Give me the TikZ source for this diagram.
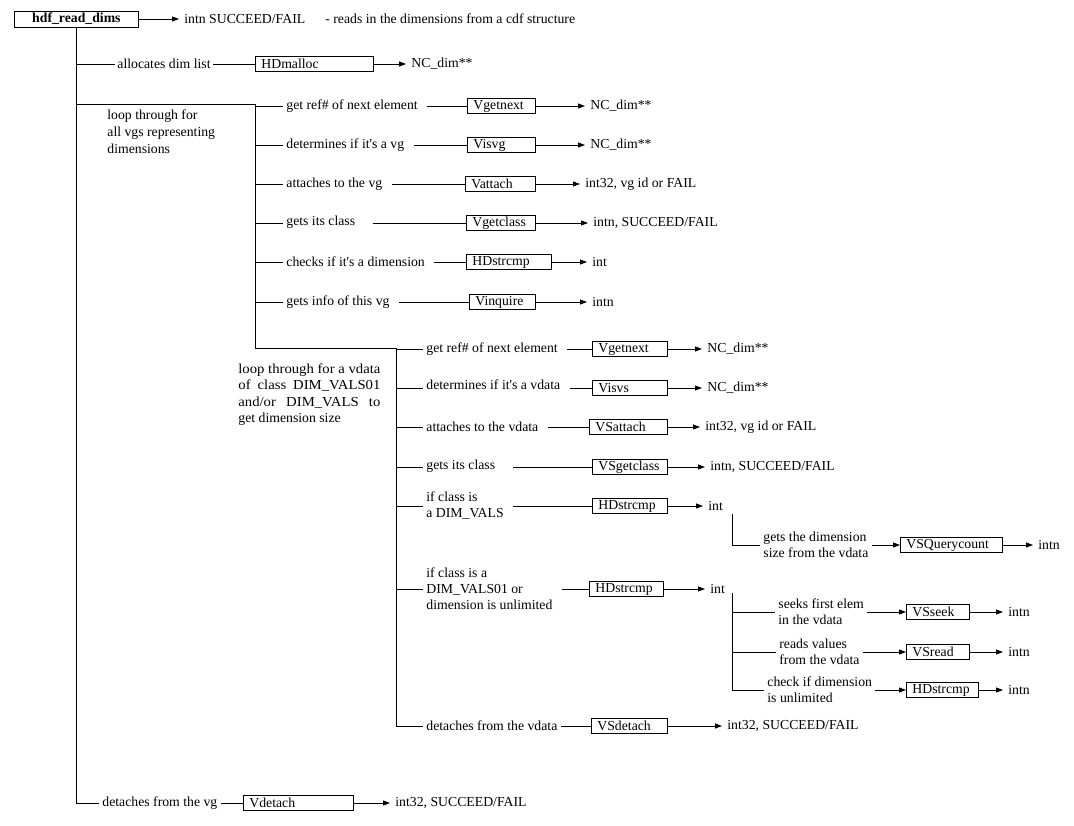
\documentclass[tikz,border=0pt]{standalone}
\usepackage{fontspec}
\setmainfont{Liberation Serif}
\newfontfamily\widefont[FakeStretch=1.07]{Liberation Serif}
\newcommand{\apos}{\textquotesingle}
\usetikzlibrary{arrows.meta}
\begin{document}
\begin{tikzpicture}[x=1pt,y=-1pt,line width=0.8pt,
  every node/.style={font=\fontsize{13.75}{16}\selectfont},
  lab/.style={anchor=west,inner xsep=3pt,inner ysep=1pt,align=left},
  ret/.style={anchor=west,inner xsep=5pt,inner ysep=1pt},
  fbox/.style={draw,anchor=west,minimum height=15pt,inner ysep=0pt,inner xsep=6pt,text width=#1,align=left},
  arr/.style={-{Triangle[length=7pt,width=5pt]}},
  gap/.style={shorten <=6pt}]
\useasboundingbox (0,0) rectangle (1074,825);

% ---- top-level routine ----
\node[draw,anchor=west,minimum width=124pt,minimum height=16pt,inner sep=0pt,
      font=\fontsize{13.75}{16}\selectfont\bfseries] (hdf) at (14,19) {hdf\_read\_dims};
\node[ret] (hdfret) at (179,19) {intn SUCCEED/FAIL};
\node[lab] (hdfnote) at (322,19) {- reads in the dimensions from a cdf structure};
\draw[arr] (hdf.east) -- (hdfret.west);

% ---- allocation ----
\node[lab,inner xsep=2pt] (alloc) at (115,64) {allocates dim list};
\node[fbox=106pt] (allocf) at (255,64) {HDmalloc};
\node[ret] (allocr) at (406,64) {NC\_dim**};
\draw (hdf.south |- alloc.west) -- (alloc.west);
\draw (alloc.east) -- (allocf.west);
\draw[arr] (allocf.east) -- (allocr.west);

% ---- detach at the end ----
\node[lab] (detvg) at (99,803) {detaches from the vg};
\node[fbox=98pt] (detvgf) at (243,803) {Vdetach};
\node[ret] (detvgr) at (390,803) {int32, SUCCEED/FAIL};
\draw (hdf.south) |- (detvg.west);
\draw (detvg.east) -- (detvgf.west);
\draw[arr] (detvgf.east) -- (detvgr.west);

% ---- loop brackets ----
\coordinate (c2) at (255,104);
\coordinate (c3) at (255,348);
\coordinate (c4) at (396,348);
\coordinate (c5) at (396,726);
\draw (hdf.south |- c2) -- (c2) -- (c3) -- (c4) -- (c5);

\node[anchor=north west,align=left,inner sep=0pt,font=\fontsize{13.75}{17}\selectfont] (loopvg) at (107,109)
  {loop through for\\all vgs representing\\dimensions};

% ---- loop over vgroups ----
\node[lab] (a1) at (283,106) {get ref\# of next element};
\node[fbox=56pt] (a1f) at (467,106) {Vgetnext};
\node[ret] (a1r) at (585,106) {NC\_dim**};
\draw (c2 |- a1.west) -- (a1.west);
\draw[gap] (a1.east) -- (a1f.west);
\draw[arr] (a1f.east) -- (a1r.west);

\node[lab] (a2) at (283,145) {determines if it\apos s a vg};
\node[fbox=56pt] (a2f) at (467,145) {Visvg};
\node[ret] (a2r) at (585,145) {NC\_dim**};
\draw (c2 |- a2.west) -- (a2.west);
\draw[gap] (a2.east) -- (a2f.west);
\draw[arr] (a2f.east) -- (a2r.west);

\node[lab] (a3) at (283,184) {attaches to the vg};
\node[fbox=58pt] (a3f) at (465,184) {Vattach};
\node[ret] (a3r) at (580,184) {int32, vg id or FAIL};
\draw (c2 |- a3.west) -- (a3.west);
\draw[gap] (a3.east) -- (a3f.west);
\draw[arr] (a3f.east) -- (a3r.west);

\node[lab] (a4) at (283,222) {gets its class};
\node[fbox=57pt] (a4f) at (466,223) {Vgetclass};
\node[ret] (a4r) at (588,223) {intn, SUCCEED/FAIL};
\draw (c2 |- a4f.west) -- (a4.west |- a4f.west);
\draw[shorten <=14pt] (a4.east |- a4f.west) -- (a4f.west);
\draw[arr] (a4f.east) -- (a4r.west);

\node[lab] (a5) at (283,262) {checks if it\apos s a dimension};
\node[fbox=73pt] (a5f) at (466,262) {HDstrcmp};
\node[ret] (a5r) at (587,262) {int};
\draw (c2 |- a5.west) -- (a5.west);
\draw[gap] (a5.east) -- (a5f.west);
\draw[arr] (a5f.east) -- (a5r.west);

\node[lab] (a6) at (283,302) {gets info of this vg};
\node[fbox=54pt] (a6f) at (469,302) {Vinquire};
\node[ret] (a6r) at (587,302) {intn};
\draw (c2 |- a6.west) -- (a6.west);
\draw[gap] (a6.east) -- (a6f.west);
\draw[arr] (a6f.east) -- (a6r.west);

% ---- loop over vdatas ----
\node[anchor=north west,align=left,inner sep=0pt,font=\fontsize{13.75}{16.5}\selectfont] (loopvd) at (238,363)
  {\makebox[142pt][s]{\widefont loop through for a vdata}\\
   \makebox[142pt][s]{\widefont of class DIM\_VALS01}\\
   \makebox[142pt][s]{\widefont and/or DIM\_VALS to}\\
   get dimension size};

\node[lab] (b1) at (423,349) {get ref\# of next element};
\node[fbox=63pt] (b1f) at (592,349) {Vgetnext};
\node[ret] (b1r) at (702,349) {NC\_dim**};
\draw (c4 |- b1.west) -- (b1.west);
\draw[gap] (b1.east) -- (b1f.west);
\draw[arr] (b1f.east) -- (b1r.west);

\node[lab] (b2) at (423,385) {determines if it\apos s a vdata};
\node[fbox=63pt] (b2f) at (592,388) {Visvs};
\node[ret] (b2r) at (702,388) {NC\_dim**};
\draw (c4 |- b2f.west) -- (b2.west |- b2f.west);
\draw[gap] (b2.east |- b2f.west) -- (b2f.west);
\draw[arr] (b2f.east) -- (b2r.west);

\node[lab] (b3) at (423,427) {attaches to the vdata};
\node[fbox=66pt] (b3f) at (589,427) {VSattach};
\node[ret] (b3r) at (700,427) {int32, vg id or FAIL};
\draw (c4 |- b3.west) -- (b3.west);
\draw[gap] (b3.east) -- (b3f.west);
\draw[arr] (b3f.east) -- (b3r.west);

\node[lab] (b4) at (423,466) {gets its class};
\node[fbox=63pt] (b4f) at (592,467) {VSgetclass};
\node[ret] (b4r) at (705,467) {intn, SUCCEED/FAIL};
\draw (c4 |- b4f.west) -- (b4.west |- b4f.west);
\draw[shorten <=14pt] (b4.east |- b4f.west) -- (b4f.west);
\draw[arr] (b4f.east) -- (b4r.west);

\node[lab] (b5) at (423,506) {if class is\\a DIM\_VALS};
\node[fbox=63pt] (b5f) at (592,506) {HDstrcmp};
\node[ret] (b5r) at (703,506) {int};
\draw (c4 |- b5.west) -- (b5.west);
\draw[gap] (b5.east) -- (b5f.west);
\draw[arr] (b5f.east) -- (b5r.west);

\node[lab] (b6) at (423,589) {if class is a\\DIM\_VALS01 or\\dimension is unlimited};
\node[fbox=62pt] (b6f) at (589,589) {HDstrcmp};
\node[ret] (b6r) at (705,589) {int};
\draw (c4 |- b6.west) -- (b6.west);
\draw[gap] (b6.east) -- (b6f.west);
\draw[arr] (b6f.east) -- (b6r.west);

\node[lab] (b7) at (423,726) {detaches from the vdata};
\node[fbox=64pt] (b7f) at (591,726) {VSdetach};
\node[ret] (b7r) at (722,726) {int32, SUCCEED/FAIL};
\draw (c5) -- (b7.west);
\draw (b7.east) -- (b7f.west);
\draw[arr] (b7f.east) -- (b7r.west);

% ---- DIM_VALS branch ----
\coordinate (qa) at (732,514);
\node[lab] (qal) at (760,545) {gets the dimension\\size from the vdata};
\node[fbox=90pt] (qaf) at (900,545) {VSQuerycount};
\node[ret] (qar) at (1033,545) {intn};
\draw (qa) |- (qal.west);
\draw[arr] (qal.east) -- (qaf.west);
\draw[arr] (qaf.east) -- (qar.west);

% ---- DIM_VALS01 / unlimited branch ----
\coordinate (qb) at (732,593);
\node[lab] (q1) at (775,612) {seeks first elem\\in the vdata};
\node[fbox=51pt] (q1f) at (906,612) {VSseek};
\node[ret] (q1r) at (1003,612) {intn};
\node[lab] (q2) at (776,652) {reads values\\from the vdata};
\node[fbox=51pt] (q2f) at (906,652) {VSread};
\node[ret] (q2r) at (1003,652) {intn};
\node[lab] (q3) at (764,690) {check if dimension\\is unlimited};
\node[fbox=60pt] (q3f) at (906,690) {HDstrcmp};
\node[ret] (q3r) at (1003,690) {intn};
\draw (qb) |- (q3.west);
\draw (qb |- q1.west) -- (q1.west);
\draw (qb |- q2.west) -- (q2.west);
\draw[arr] (q1.east) -- (q1f.west);
\draw[arr] (q2.east) -- (q2f.west);
\draw[arr] (q3.east) -- (q3f.west);
\draw[arr] (q1f.east) -- (q1r.west);
\draw[arr] (q2f.east) -- (q2r.west);
\draw[arr] (q3f.east) -- (q3r.west);
\end{tikzpicture}
\end{document}
